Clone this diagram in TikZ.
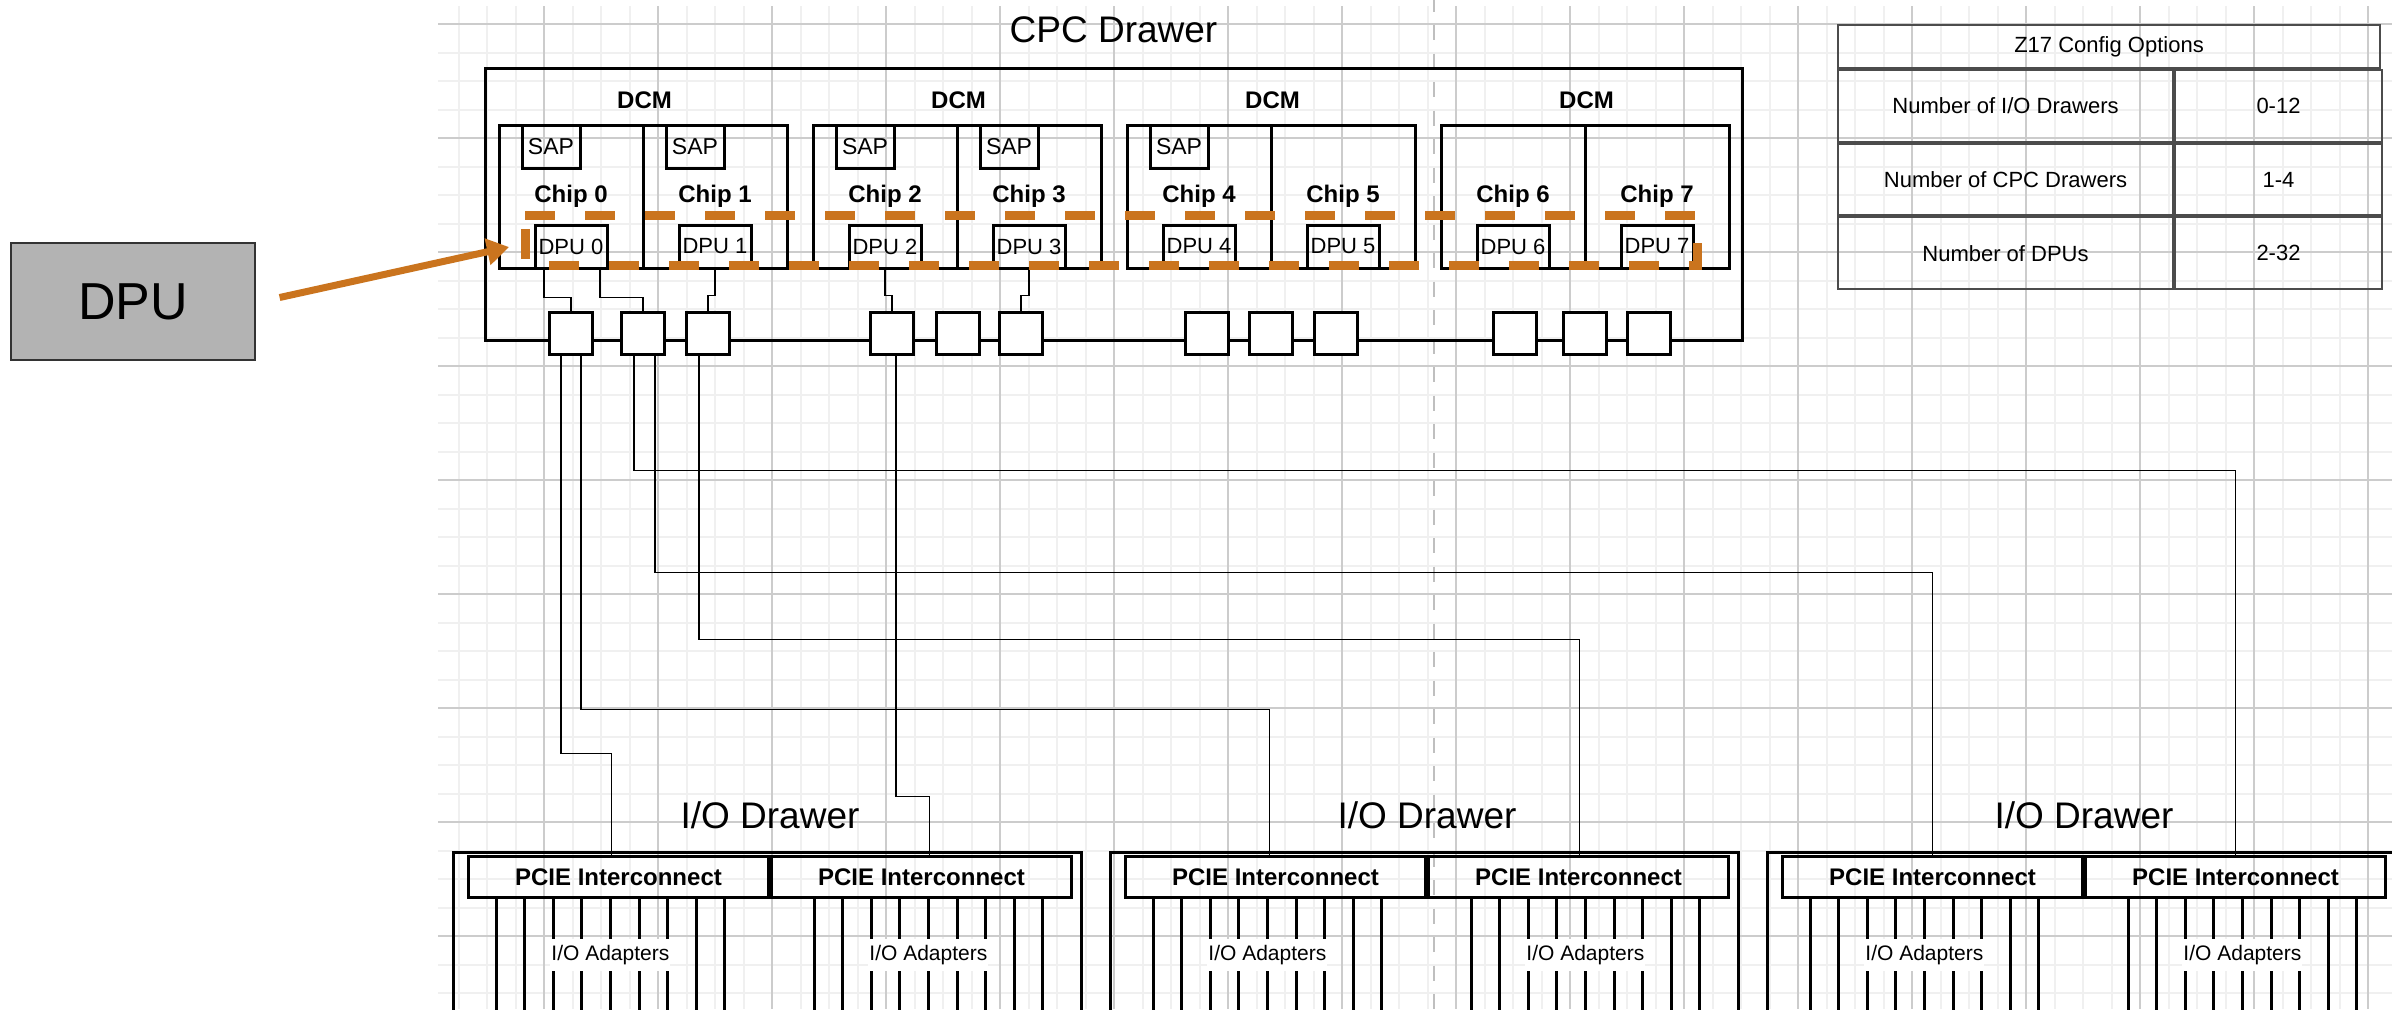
\documentclass[tikz,border=0pt]{standalone}
\usepackage{fontspec}
\setmainfont{Liberation Sans}
\usetikzlibrary{positioning, arrows.meta, calc}

\definecolor{hlorange}{RGB}{202,116,30}
\definecolor{callgray}{RGB}{179,179,179}

\begin{document}
\begin{tikzpicture}[
    x=0.5pt, y=-0.5pt,
    hwbox/.style={rectangle, draw=black, line width=1.5pt, inner sep=0pt},
    hwline/.style={draw=black, line width=1.5pt},
    chipbox/.style={hwbox, minimum width=72pt, minimum height=71.5pt, font=\bfseries\fontsize{12}{14}\selectfont},
    sapbox/.style={hwbox, minimum width=29pt, minimum height=21.5pt, font=\fontsize{11.5}{13}\selectfont},
    dpubox/.style={hwbox, minimum width=36pt, minimum height=21.5pt, font=\fontsize{11}{13}\selectfont},
    portbox/.style={hwbox, fill=white, minimum width=21.5pt, minimum height=21pt},
    pciebox/.style={hwbox, minimum width=150pt, minimum height=20.5pt, font=\bfseries\fontsize{12}{14}\selectfont},
    dcmlabel/.style={font=\bfseries\fontsize{12}{14}\selectfont},
    drawertitle/.style={font=\fontsize{18.5}{22}\selectfont},
    adapterlabel/.style={fill=white, inner xsep=0.5pt, inner ysep=3pt, font=\fontsize{10.5}{12}\selectfont},
    cfgcell/.style={rectangle, draw=black!70, line width=1pt, inner sep=0pt, font=\fontsize{11}{13}\selectfont},
    cfgkey/.style={cfgcell, minimum width=167.5pt, minimum height=35.83pt},
    cfgval/.style={cfgcell, minimum width=103.5pt, minimum height=35.83pt},
    wire/.style={draw=black, line width=0.95pt},
    minorgrid/.style={draw=black!6, line width=1pt},
    majorgrid/.style={draw=black!20, line width=0.7pt},
    divider/.style={draw=black!25, line width=1.4pt, dash pattern=on 7.5pt off 6.75pt},
    dpuhl/.style={draw=hlorange, line width=4.5pt, dash pattern=on 15pt off 15pt},
    dpucallout/.style={rectangle, fill=callgray, draw=black!80, line width=0.6pt, minimum width=122pt, minimum height=58.5pt, font=\fontsize{26}{30}\selectfont},
    pointer/.style={draw=hlorange, line width=3.5pt, -{Triangle[length=11pt, width=13pt]}}
    ]
    \useasboundingbox (0,0) rectangle (2392,1009);

    % Background grid
    \foreach \gx in {0,...,68}
        \draw [minorgrid] ({458.5+28.5*\gx},6) -- ({458.5+28.5*\gx},1009);
    \foreach \gy in {0,...,34}
        \draw [minorgrid] (438,{24+28.5*\gy}) -- (2392,{24+28.5*\gy});
    \foreach \gx in {0,...,16}
        \draw [majorgrid] ({544+114*\gx},6) -- ({544+114*\gx},1009);
    \foreach \gy in {0,...,8}
        \draw [majorgrid] (438,{24+114*\gy}) -- (2392,{24+114*\gy});
    \draw [divider] (1434,-3.5) -- (1434,1009);

    % CPC drawer
    \node (cpc) [hwbox, minimum width=628.5pt, minimum height=136pt] at (1113.5,204) {};
    \node [drawertitle] at ([yshift=18.5pt]cpc.north) {CPC Drawer};

    \foreach \i in {0,...,7} {
        \pgfmathsetmacro{\cx}{571+144*mod(\i,2)+314*int(\i/2)}
        \node (chip\i) [chipbox] at (\cx,196.5) {Chip \i};
        \node (dpu\i) [dpubox, anchor=south] at (chip\i.south) {DPU \i};
    }
    \foreach \i in {0,...,4}
        \node (sap\i) [sapbox, anchor=north] at ([xshift=-10pt]chip\i.north) {SAP};
    \foreach \d in {0,2,4,6}
        \node [dcmlabel] at ([yshift=11.5pt]chip\d.north east) {DCM};

    % Ports on the drawer edge
    \foreach \px [count=\n] in {571,643,708,892,958,1021,1207,1271,1336,1515,1585,1649}
        \node (p\n) [portbox] at (\px,333) {};

    \draw [wire] ([xshift=-13.5pt]dpu0.south) -- ++(0,28) -| (p1.north);
    \draw [wire] ([xshift=14.5pt]dpu0.south) -- ++(0,28) -| (p2.north);
    \draw [wire] (dpu1.south) -- ++(0,26) -| (p3.north);
    \draw [wire] (dpu2.south) -- ++(0,26) -| (p4.north);
    \draw [wire] (dpu3.south) -- ++(0,26) -| (p6.north);

    % I/O drawers
    \foreach \k in {1,2,3} {
        \pgfmathsetmacro{\dl}{453+657*(\k-1)}
        \draw [hwline] (\dl,1015) |- (\dl+628,852) -- (\dl+628,1015);
        \node (pcieL\k) [pciebox, anchor=north west] at (\dl+14,855) {PCIE Interconnect};
        \node (pcieR\k) [pciebox, anchor=north west] at (pcieL\k.north east) {PCIE Interconnect};
        \node [drawertitle] at ([yshift=20pt]pcieL\k.north east) {I/O Drawer};
        \foreach \j in {0,...,8} {
            \draw [hwline] ($(pcieL\k.south west)+(29+28.6*\j,0)$) -- ++(0,120);
            \draw [hwline] ($(pcieR\k.south west)+(44+28.6*\j,0)$) -- ++(0,120);
        }
        \node [adapterlabel] at ($(pcieL\k.south west)+(143.4,56)$) {I/O Adapters};
        \node [adapterlabel] at ($(pcieR\k.south west)+(158.4,56)$) {I/O Adapters};
    }

    % Links from ports to I/O drawers
    \draw [wire] ([xshift=-5pt]p1.south) -- ++(0,398) -| ([xshift=-3.5pt]pcieL1.north);
    \draw [wire] ([xshift=5pt]p1.south) -- ++(0,354) -| ([xshift=-3pt]pcieL2.north);
    \draw [wire] ([xshift=-4.5pt]p2.south) -- ++(0,115) -| (pcieR3.north);
    \draw [wire] ([xshift=6pt]p2.south) -- ++(0,217) -| (pcieL3.north);
    \draw [wire] ([xshift=-4.5pt]p3.south) -- ++(0,284) -| ([xshift=0.5pt]pcieR2.north);
    \draw [wire] ([xshift=2pt]p4.south) -- ++(0,441) -| ([xshift=4pt]pcieR1.north);

    % Config table
    \node (cfghead) [cfgcell, minimum width=271pt, minimum height=21.5pt] at (2109,46.5) {Z17 Config Options};
    \node (cfgio) [cfgkey, anchor=north west] at (cfghead.south west) {Number of I/O Drawers};
    \node (cfgioval) [cfgval, anchor=west] at (cfgio.east) {0-12};
    \node (cfgcpc) [cfgkey, anchor=north west] at (cfgio.south west) {Number of CPC Drawers};
    \node (cfgcpcval) [cfgval, anchor=west] at (cfgcpc.east) {1-4};
    \node (cfgdpu) [cfgkey, anchor=north west] at (cfgcpc.south west) {Number of DPUs};
    \node (cfgdpuval) [cfgval, anchor=west] at (cfgdpu.east) {2-32};

    % DPU highlight and callout
    \draw [dpuhl] (525,215) -- (1697,215) -- (1697,265) -- (525,265) -- cycle;
    \node (dpucall) [dpucallout] at (133,301.5) {DPU};
    \coordinate (hltip) at (509,247);
    \draw [pointer] ([xshift=12pt,yshift=2pt]dpucall.east) -- (hltip);
\end{tikzpicture}
\end{document}
